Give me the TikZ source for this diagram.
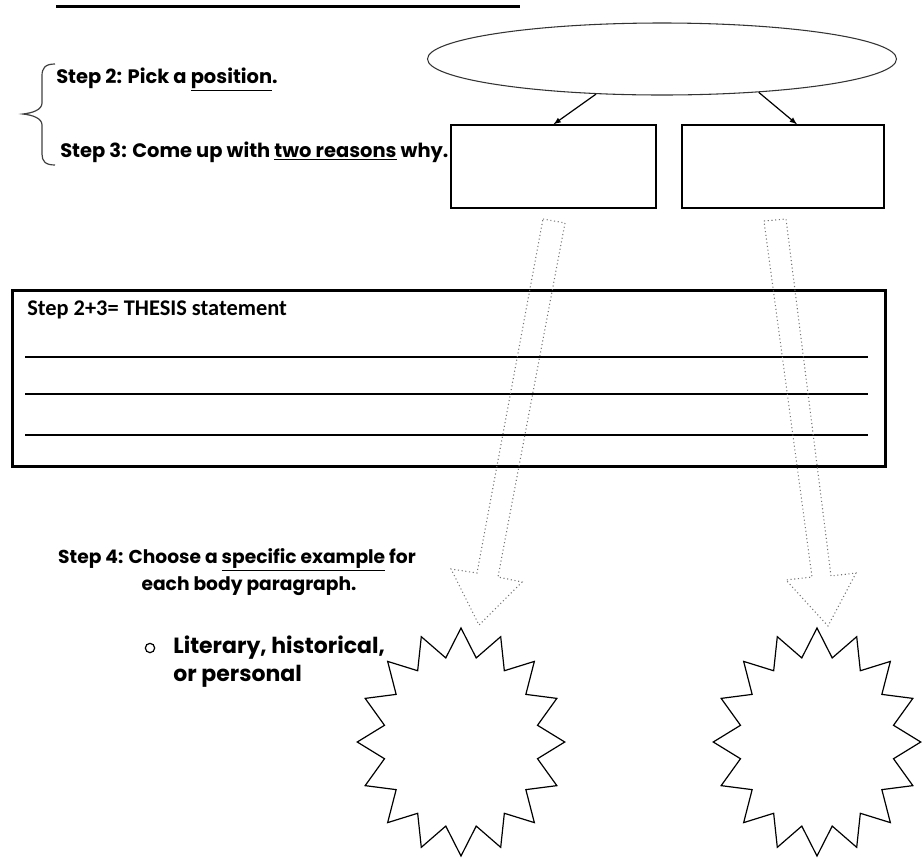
\documentclass[tikz,border=0pt]{standalone}
\usepackage{fontspec}
\setmainfont{Poppins}
\newfontfamily\thesisfont{Carlito}
\usetikzlibrary{positioning}
\usetikzlibrary{calc}
\usetikzlibrary{shapes.geometric}

\begin{document}
\begin{tikzpicture}[x=0.75pt,y=-0.75pt,
  steptext/.style={font=\bfseries\fontsize{14}{16}\selectfont,inner sep=0pt},
  bullettext/.style={font=\bfseries\fontsize{16.5}{19}\selectfont,inner sep=0pt},
  reasonbox/.style={draw,line width=1pt,minimum height=62.25pt},
  burst/.style={star,star points=16,star point ratio=1.33,draw,line width=0.9pt,minimum size=171pt,inner sep=0pt,xscale=0.91,transform shape},
  blockarrow/.style={draw=black!55,dotted,line width=0.8pt},
  writeline/.style={line width=1pt}]
\useasboundingbox (0,0) rectangle (922,865);

\draw[line width=2.25pt] (56,6.5) -- (520,6.5);

\node[ellipse,draw=black!80,line width=0.8pt,minimum width=351.75pt,minimum height=54pt](claim) at (662,59){};
\node[reasonbox,minimum width=153.75pt](reasonA) at (553.5,166.5){};
\node[reasonbox,minimum width=151.5pt](reasonB) at (783,166.5){};

\node[steptext,font=\bfseries\fontsize{14.6}{16}\selectfont,anchor=base west](pick) at (56,83.5){Step 2: Pick a \underline{position}.};
\node[steptext,font=\bfseries\fontsize{14.6}{16}\selectfont,anchor=base west](why) at (60,157){Step 3: Come up with \underline{two reasons} why.};
\draw[black!75,line width=0.9pt] (55,64) .. controls (45,64) and (42,68) .. (42,76) -- (42,103)
  .. controls (42,110) and (32,113) .. (23,114) .. controls (32,115) and (42,118) .. (42,125)
  -- (42,154) .. controls (42,161) and (45,165) .. (55,165);

\path
(claim.208) edge[-latex,line width=0.9pt]node{} (reasonA.north)
(claim.341) edge[-latex,line width=0.9pt]node{} ($(reasonB.north)+(14,0)$);

\node[draw,line width=2.25pt,minimum width=654.75pt,minimum height=132pt](thesis) at (448.5,378){};
\node[anchor=base west,inner sep=0pt,font=\thesisfont\bfseries\fontsize{16.8}{18}\selectfont](thesislabel) at (27,315){Step 2+3= THESIS statement};
\foreach \ly in {357,394,435}
  \draw[writeline] (25,\ly) -- (868,\ly);

\draw[blockarrow] (543,219) -- (565,223) -- (498,577) -- (522,582) -- (479,625) -- (451,569) -- (477,573) -- cycle;
\draw[blockarrow] (764,221) -- (786,219) -- (831,576) -- (856,573) -- (828,626) -- (786,580) -- (812,577) -- cycle;

\node[steptext,anchor=base](exampleA) at (237,563){Step 4: Choose a \underline{specific example} for};
\node[steptext,anchor=base](exampleB) at (249,590){each body paragraph.};

\node[circle,draw,line width=0.9pt,minimum size=7pt,inner sep=0pt](dot) at (150,648){};
\node[bullettext,anchor=base west](kinds) at (173,653){Literary, historical,};
\node[bullettext,anchor=base west](kindsB) at (173,681){or personal};

\node[burst](starA) at (461,742){};
\node[burst](starB) at (817,742){};
\end{tikzpicture}
\end{document}
